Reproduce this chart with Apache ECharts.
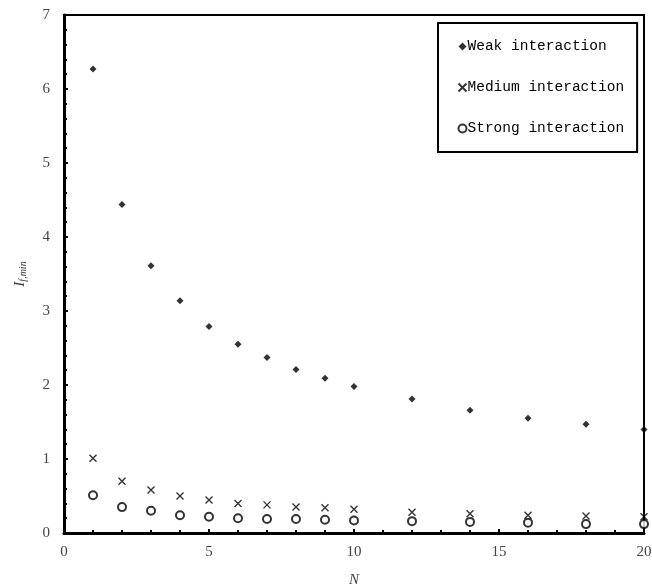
<!DOCTYPE html>
<html>
<head>
<meta charset="utf-8">
<script src="https://cdn.jsdelivr.net/npm/echarts@6/dist/echarts.min.js"></script>
<style>
  html, body { margin: 0; padding: 0; background: #fff; }
  #chart { width: 652px; height: 588px; }
</style>
</head>
<body>
<div id="chart"></div>
<script>
const nValues = [1, 2, 3, 4, 5, 6, 7, 8, 9, 10, 12, 14, 16, 18, 20];
const weak = [6.27, 4.44, 3.61, 3.14, 2.79, 2.55, 2.37, 2.21, 2.09, 1.98, 1.81, 1.66, 1.55, 1.47, 1.40];
const medium = [1.01, 0.70, 0.58, 0.50, 0.445, 0.40, 0.38, 0.35, 0.34, 0.32, 0.28, 0.26, 0.24, 0.23, 0.22];
const strong = [0.51, 0.35, 0.30, 0.24, 0.22, 0.20, 0.19, 0.19, 0.18, 0.17, 0.16, 0.15, 0.14, 0.12, 0.12];
const seriesNames = ['Weak interaction', 'Medium interaction', 'Strong interaction'];

const pairs = (ys) => nValues.map((n, i) => [n, ys[i]]);
const crossPath = 'path://M0,0L10,10M10,0L0,10';

const chart = echarts.init(document.getElementById('chart'));

const axisLabel = {color: '#444', fontFamily: 'Liberation Serif', fontSize: 15};

chart.setOption({
    animation: false,
    grid: {
        left: 64, right: 8, top: 15, bottom: 55,
        outerBoundsMode: 'none',
        show: true, borderColor: '#000', borderWidth: 2
    },
    legend: {
        data: seriesNames,
        orient: 'vertical',
        left: 438, top: 23,
        padding: [16, 13, 16, 18],
        itemGap: 26,
        itemWidth: 8, itemHeight: 8,
        borderColor: '#000', borderWidth: 2,
        textStyle: {fontFamily: 'Liberation Mono', fontSize: 14.5, color: '#000', padding: [0, 0, 0, -4]}
    },
    xAxis: {
        type: 'value', min: 0, max: 20, interval: 5,
        name: 'N', nameLocation: 'middle', nameGap: 40,
        nameTextStyle: {fontFamily: 'Liberation Serif', fontStyle: 'italic', fontSize: 15, color: '#444'},
        axisLine: {lineStyle: {color: '#000', width: 3}},
        axisTick: {inside: true, length: 4, lineStyle: {color: '#000', width: 2}},
        minorTick: {show: true, splitNumber: 5, length: 3, lineStyle: {color: '#000', width: 2}},
        splitLine: {show: false},
        axisLabel: Object.assign({margin: 12}, axisLabel)
    },
    yAxis: {
        type: 'value', min: 0, max: 7, interval: 1,
        name: '{i|I}{s|f,min}', nameLocation: 'middle', nameGap: 36,
        nameTextStyle: {
            rich: {
                i: {fontFamily: 'Liberation Serif', fontStyle: 'italic', fontSize: 15, color: '#444'},
                s: {fontFamily: 'Liberation Serif', fontStyle: 'italic', fontSize: 10, color: '#444', verticalAlign: 'bottom', padding: [6, 0, 0, 0]}
            }
        },
        axisLine: {lineStyle: {color: '#000', width: 3}},
        axisTick: {inside: true, length: 4, lineStyle: {color: '#000', width: 2}},
        minorTick: {show: true, splitNumber: 5, length: 3, lineStyle: {color: '#000', width: 2}},
        splitLine: {show: false},
        axisLabel: Object.assign({margin: 14}, axisLabel)
    },
    series: [
        {
            name: seriesNames[0], type: 'scatter', data: pairs(weak),
            symbol: 'diamond', symbolSize: 7,
            itemStyle: {color: '#000'}
        },
        {
            name: seriesNames[1], type: 'scatter', data: pairs(medium),
            symbol: crossPath, symbolSize: 7,
            itemStyle: {color: 'none', borderColor: '#000', borderWidth: 1.4}
        },
        {
            name: seriesNames[2], type: 'scatter', data: pairs(strong),
            symbol: 'emptyCircle', symbolSize: 8,
            itemStyle: {color: '#000', borderColor: '#000', borderWidth: 1}
        }
    ]
});
</script>
</body>
</html>
